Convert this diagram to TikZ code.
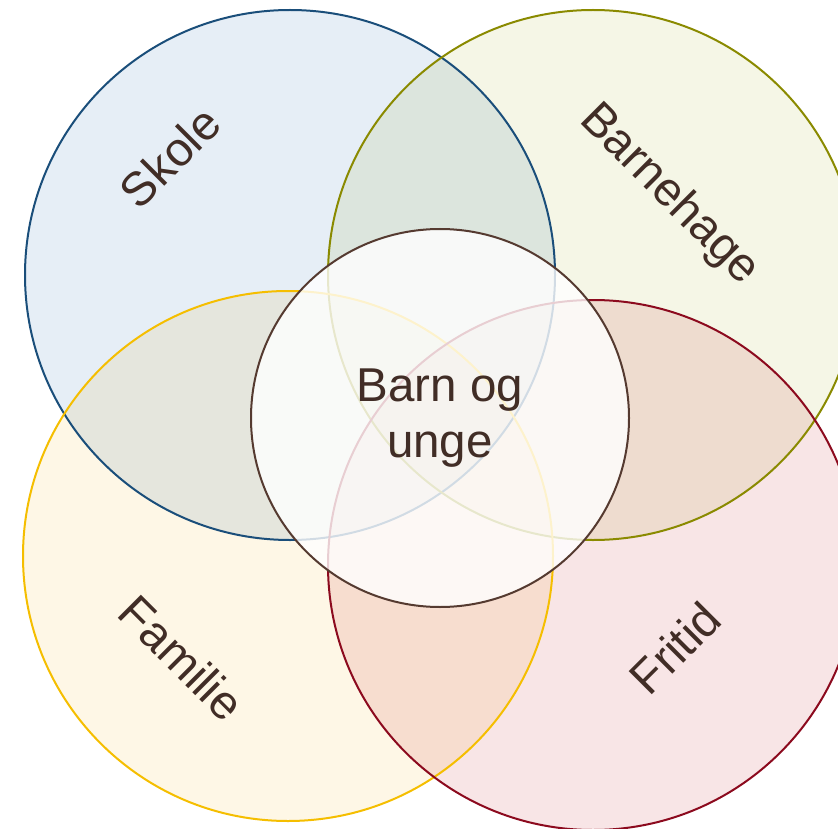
\documentclass[tikz,border=0pt]{standalone}
\usepackage{fontspec}
\setmainfont{Liberation Sans}
\definecolor{skfill}{HTML}{E6EEF6}
\definecolor{skline}{HTML}{1A4E7A}
\definecolor{bhfill}{HTML}{F5F6E6}
\definecolor{bhline}{HTML}{8A8A00}
\definecolor{fafill}{HTML}{FEF7E6}
\definecolor{faline}{HTML}{F5BE00}
\definecolor{frfill}{HTML}{F8E5E6}
\definecolor{frline}{HTML}{8C0A1E}
\definecolor{ctline}{HTML}{553A30}
\definecolor{txt}{HTML}{412D26}
\begin{document}
\begin{tikzpicture}[x=1pt,y=-1pt,
  ring/.style={circle,minimum size=530pt,inner sep=0pt,line width=2pt},
  lbl/.style={text=txt,font=\fontsize{47.5}{56}\selectfont,inner sep=0pt,align=center}]
\useasboundingbox (0,0) rectangle (838,829);
\begin{scope}
\clip (0,0) rectangle (838,829);
\begin{scope}[blend group=multiply]
\node[ring,fill=skfill] (sk) at (290,275) {};
\node[ring,fill=bhfill] (bh) at (593,275) {};
\node[ring,fill=fafill] (fa) at (288,556) {};
\node[ring,fill=frfill] (fr) at (593,565) {};
\end{scope}
\draw[line width=2pt,skline] (sk.center) circle[radius=265];
\draw[line width=2pt,bhline] (bh.center) circle[radius=265];
\draw[line width=2pt,faline] (fa.center) circle[radius=265];
\draw[line width=2pt,frline] (fr.center) circle[radius=265];
\end{scope}
\node[circle,minimum size=378pt,inner sep=0pt,fill=white,fill opacity=0.8,draw=ctline,line width=2pt] (c) at (440,418) {};
\node[lbl] (tc) at (440,418) {Barn og\\unge};
\node[lbl,rotate=45] (tsk) at (170,157) {Skole};
\node[lbl,rotate=-45] (tbh) at (669,195) {Barnehage};
\node[lbl,rotate=-45] (tfa) at (182,658) {Familie};
\node[lbl,rotate=45] (tfr) at (675,648) {Fritid};
\end{tikzpicture}
\end{document}
